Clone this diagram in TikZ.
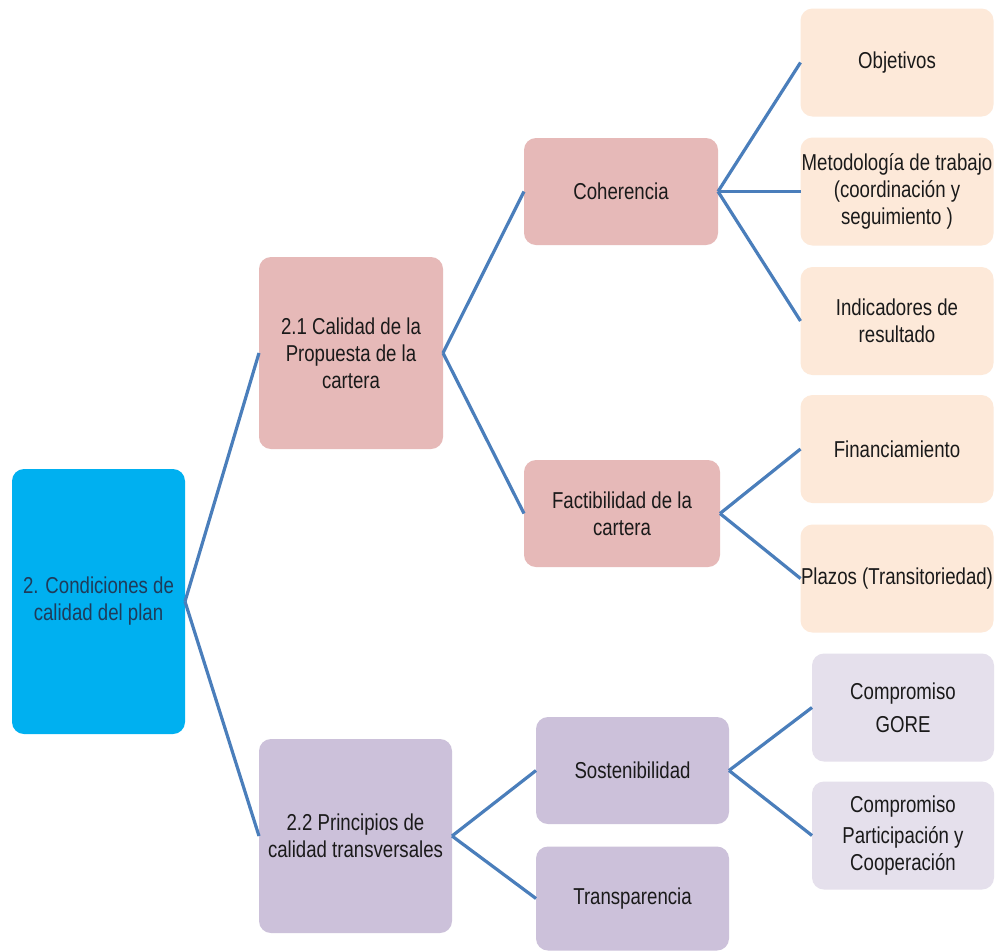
\documentclass[tikz,border=0pt]{standalone}
\usepackage{fontspec}
\setmainfont[FakeStretch=0.81]{Liberation Sans}
\definecolor{rootfill}{HTML}{00B0F0}
\definecolor{rosefill}{HTML}{E6B9B8}
\definecolor{peachfill}{HTML}{FDE9D9}
\definecolor{lilacfill}{HTML}{CCC1DA}
\definecolor{palelilac}{HTML}{E5E0EC}
\definecolor{linkblue}{HTML}{4A7EBB}
\definecolor{roottext}{HTML}{1F3B5A}
\definecolor{boxtext}{HTML}{1A1A1A}
\begin{document}
\begin{tikzpicture}[x=1pt,y=-1pt,
  box/.style={rounded corners=12pt, inner sep=0pt, outer sep=0pt, align=center,
    text=boxtext, font=\fontsize{23}{27}\selectfont},
  rootbox/.style={box, fill=rootfill, text=roottext, minimum width=173pt, minimum height=265pt},
  midbox/.style={box, fill=rosefill},
  leafbox/.style={box, fill=peachfill, minimum width=193pt, minimum height=108pt},
  lilacbox/.style={box, fill=lilacfill},
  paleleaf/.style={box, fill=palelilac, minimum width=182pt, minimum height=108pt},
  link/.style={draw=linkblue, line width=3.2pt}]
\useasboundingbox (0,0) rectangle (995,951);
\fill[white] (0,0) rectangle (995,951);

\node[rootbox] (root) at (98.5,601.5) {2. Condiciones de\\calidad del plan};

\node[midbox, minimum width=184pt, minimum height=192pt] (p21) at (351,353) {2.1 Calidad de la\\Propuesta de la\\cartera};
\node[lilacbox, minimum width=193pt, minimum height=194pt] (p22) at (355.5,836) {2.2 Principios de\\calidad transversales};

\node[midbox, minimum width=194pt, minimum height=107pt] (coh) at (621,191.5) {Coherencia};
\node[midbox, minimum width=196pt, minimum height=107pt] (fac) at (622,513.5) {Factibilidad de la\\cartera};

\node[lilacbox, minimum width=193pt, minimum height=107pt] (sos) at (632.5,770.5) {Sostenibilidad};
\node[lilacbox, minimum width=193pt, minimum height=104pt] (tra) at (632.5,898.5) {Transparencia};

\node[leafbox] (obj) at (897,62.5) {Objetivos};
\node[leafbox] (met) at (897,191.5) {Metodología de trabajo\\(coordinación y\\seguimiento )};
\node[leafbox] (ind) at (897,321) {Indicadores de\\resultado};
\node[leafbox] (fin) at (897,449) {Financiamiento};
\node[leafbox] (plz) at (897,578.5) {Plazos (Transitoriedad)};

\node[paleleaf] (gor) at (903,707.5) {Compromiso\\[6pt]GORE};
\node[paleleaf] (par) at (903,835.5) {Compromiso\\[4pt]Participación y\\Cooperación};

\draw[link] (root.east) -- (p21.west);
\draw[link] (root.east) -- (p22.west);
\draw[link] (p21.east) -- (coh.west);
\draw[link] (p21.east) -- (fac.west);
\draw[link] (coh.east) -- (obj.west);
\draw[link] (coh.east) -- (met.west);
\draw[link] (coh.east) -- (ind.west);
\draw[link] (fac.east) -- (fin.west);
\draw[link] (fac.east) -- (plz.west);
\draw[link] (p22.east) -- (sos.west);
\draw[link] (p22.east) -- (tra.west);
\draw[link] (sos.east) -- (gor.west);
\draw[link] (sos.east) -- (par.west);
\end{tikzpicture}
\end{document}
